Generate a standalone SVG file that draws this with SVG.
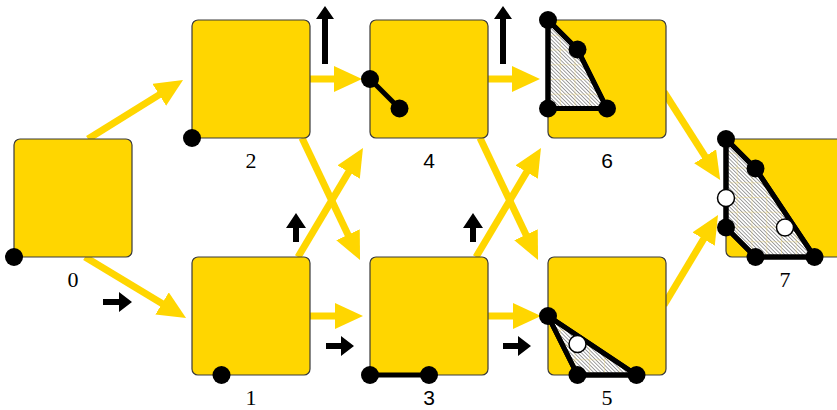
<svg xmlns="http://www.w3.org/2000/svg" width="837" height="410" viewBox="0 0 837 410">
<style>
.box{fill:#FFD600;stroke:#3a3a3a;stroke-width:1.2}
.conn{stroke:#FFD600;stroke-width:7;fill:none}
.dot{fill:#000}
.wdot{fill:#fff;stroke:#000;stroke-width:1.5}
.edge{stroke:#000;stroke-width:5;fill:none;stroke-linejoin:round}
.poly{fill:url(#hatch);stroke:#000;stroke-width:5;stroke-linejoin:round}
.grid{fill:url(#grid);stroke:none}
.lbl{font-size:22px;text-anchor:middle;fill:#000}
.serif{font-family:"Liberation Serif",serif}
.sans{font-family:"Liberation Sans",sans-serif;font-size:21px}
.barrow{fill:#000}
</style>
<defs>
<marker id="ya" markerUnits="userSpaceOnUse" markerWidth="30" markerHeight="28" refX="13" refY="13" orient="auto">
<path d="M0,0 L28,13 L0,26 z" fill="#FFD600"/>
</marker>
<pattern id="hatch" patternUnits="userSpaceOnUse" width="2.6" height="2.6" patternTransform="rotate(-45)">
<rect width="2.6" height="2.6" fill="#fff"/>
<line x1="0" y1="0" x2="0" y2="2.6" stroke="#555" stroke-width="1.1"/>
</pattern>
<pattern id="grid" patternUnits="userSpaceOnUse" x="14" y="20" width="14.75" height="14.75">
<path d="M0,0 L14.75,0 M0,0 L0,14.75" stroke="#F2D96A" stroke-width="0.8" fill="none" opacity="0.8"/>
</pattern>
</defs>
<rect width="837" height="410" fill="#fff"/>
<g id="connectors">
<line class="conn" x1="88" y1="139" x2="170.3" y2="87.9" marker-end="url(#ya)"/>
<line class="conn" x1="85" y1="257" x2="173.2" y2="310.2" marker-end="url(#ya)"/>
<line class="conn" x1="308" y1="79" x2="347" y2="79" marker-end="url(#ya)"/>
<line class="conn" x1="486" y1="79" x2="525" y2="79" marker-end="url(#ya)"/>
<line class="conn" x1="308" y1="316" x2="348" y2="316" marker-end="url(#ya)"/>
<line class="conn" x1="486" y1="316" x2="526" y2="316" marker-end="url(#ya)"/>
<line class="conn" x1="302" y1="138" x2="353.6" y2="246.5" marker-end="url(#ya)"/>
<line class="conn" x1="298" y1="257" x2="355.3" y2="160.9" marker-end="url(#ya)"/>
<line class="conn" x1="480" y1="138" x2="531.6" y2="246.5" marker-end="url(#ya)"/>
<line class="conn" x1="476" y1="257" x2="533.3" y2="160.9" marker-end="url(#ya)"/>
<line class="conn" x1="664" y1="92" x2="712.1" y2="167.3" marker-end="url(#ya)"/>
<line class="conn" x1="664" y1="305" x2="710.3" y2="227.9" marker-end="url(#ya)"/>
</g>
<g id="annotations">
<path class="barrow" d="M103,299 L119,299 L119,292 L132,302 L119,312 L119,305 L103,305 z"/>
<path class="barrow" d="M326,343 L341,343 L341,336 L354,346 L341,356 L341,349 L326,349 z"/>
<path class="barrow" d="M503,343 L518,343 L518,336 L531,346 L518,356 L518,349 L503,349 z"/>
<path class="barrow" d="M293,242 L293,228 L286,228 L296,213 L306,228 L299,228 L299,242 z"/>
<path class="barrow" d="M470,242 L470,228 L463,228 L473,213 L483,228 L476,228 L476,242 z"/>
<path class="barrow" d="M322,64 L322,19 L316,19 L325,6 L334,19 L328,19 L328,64 z"/>
<path class="barrow" d="M500,64 L500,19 L494,19 L503,6 L512,19 L506,19 L506,64 z"/>
</g>
<g id="node0">
<rect class="box" x="14" y="139" width="118" height="118" rx="6"/>
<circle class="dot" cx="14" cy="257" r="9"/>
<text class="lbl serif" x="73" y="287">0</text>
</g>
<g id="node2">
<rect class="box" x="192" y="20" width="118" height="118" rx="6"/>
<circle class="dot" cx="192" cy="138" r="9"/>
<text class="lbl serif" x="251" y="168">2</text>
</g>
<g id="node1">
<rect class="box" x="192" y="257" width="118" height="118" rx="6"/>
<circle class="dot" cx="221.5" cy="375" r="9"/>
<text class="lbl serif" x="251" y="405">1</text>
</g>
<g id="node4">
<rect class="box" x="370" y="20" width="118" height="118" rx="6"/>
<line class="edge" x1="370" y1="79" x2="399.5" y2="108.5"/>
<circle class="dot" cx="370" cy="79" r="9"/>
<circle class="dot" cx="399.5" cy="108.5" r="9"/>
<text class="lbl sans" x="429" y="168">4</text>
</g>
<g id="node3">
<rect class="box" x="370" y="257" width="118" height="118" rx="6"/>
<line class="edge" x1="370" y1="375" x2="429" y2="375"/>
<circle class="dot" cx="370" cy="375" r="9"/>
<circle class="dot" cx="429" cy="375" r="9"/>
<text class="lbl sans" x="429" y="405">3</text>
</g>
<g id="node6">
<rect class="box" x="548" y="20" width="118" height="118" rx="6"/>
<polygon class="poly" points="548,20 577.5,49.5 607,108.5 548,108.5"/>
<polygon class="grid" points="548,20 577.5,49.5 607,108.5 548,108.5"/>
<polygon points="548,20 577.5,49.5 607,108.5 548,108.5" fill="none" stroke="#000" stroke-width="5" stroke-linejoin="round"/>
<circle class="dot" cx="548" cy="20" r="9"/>
<circle class="dot" cx="577.5" cy="49.5" r="9"/>
<circle class="dot" cx="607" cy="108.5" r="9"/>
<circle class="dot" cx="548" cy="108.5" r="9"/>
<text class="lbl sans" x="607" y="168">6</text>
</g>
<g id="node5">
<rect class="box" x="548" y="257" width="118" height="118" rx="6"/>
<polygon class="poly" points="548,316 577.5,375 636.5,375"/>
<polygon class="grid" points="548,316 577.5,375 636.5,375"/>
<polygon points="548,316 577.5,375 636.5,375" fill="none" stroke="#000" stroke-width="5" stroke-linejoin="round"/>
<circle class="dot" cx="548" cy="316" r="9"/>
<circle class="dot" cx="577.5" cy="375" r="9"/>
<circle class="dot" cx="636.5" cy="375" r="9"/>
<circle class="wdot" cx="577.5" cy="344" r="8.5"/>
<text class="lbl serif" x="607" y="405">5</text>
</g>
<g id="node7">
<rect class="box" x="726" y="139" width="118" height="118" rx="6"/>
<polygon class="poly" points="726,139 755.5,168.5 814.5,257 755.5,257 726,227.5"/>
<polygon class="grid" points="726,139 755.5,168.5 814.5,257 755.5,257 726,227.5"/>
<polygon points="726,139 755.5,168.5 814.5,257 755.5,257 726,227.5" fill="none" stroke="#000" stroke-width="5" stroke-linejoin="round"/>
<circle class="dot" cx="726" cy="139" r="9"/>
<circle class="dot" cx="755.5" cy="168.5" r="9"/>
<circle class="dot" cx="814.5" cy="257" r="9"/>
<circle class="dot" cx="755.5" cy="257" r="9"/>
<circle class="dot" cx="726" cy="227.5" r="9"/>
<circle class="wdot" cx="726" cy="198" r="8.5"/>
<circle class="wdot" cx="785" cy="227.5" r="8.5"/>
<text class="lbl serif" x="785" y="287">7</text>
</g>
</svg>
